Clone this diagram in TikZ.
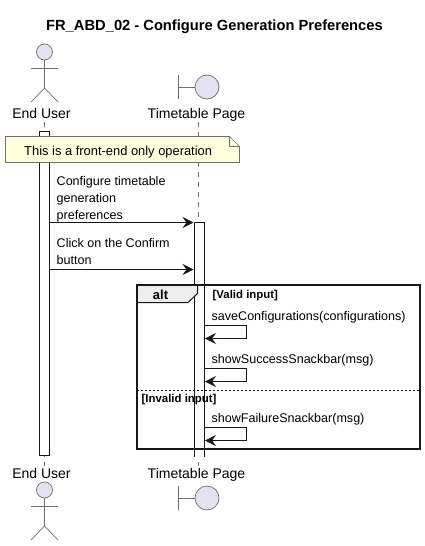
\documentclass[tikz,border=0pt]{standalone}
\usepackage{fontspec}
\setmainfont{Liberation Sans}
\usetikzlibrary{arrows.meta,positioning}
\definecolor{partfill}{HTML}{E2E2F0}
\definecolor{partline}{HTML}{6E6E6E}
\definecolor{notefill}{HTML}{FEFFDD}
\definecolor{tabfill}{HTML}{EEEEEE}
\definecolor{ink}{HTML}{181818}

\begin{document}
\begin{tikzpicture}[x=1pt,y=-1pt,
    part/.style={draw=partline,fill=partfill,line width=0.7pt},
    partlabel/.style={anchor=base,inner sep=0pt,font=\fontsize{14}{16}\selectfont},
    lifeline/.style={draw=partline,line width=0.6pt,dash pattern=on 5pt off 5pt},
    bar/.style={draw=ink,fill=white,line width=0.9pt},
    msg/.style={draw=ink,line width=0.9pt,-{Stealth[length=11pt,width=11pt,inset=4pt]}},
    msgtext/.style={anchor=base west,inner sep=0pt,font=\fontsize{12.55}{17}\selectfont},
    guard/.style={anchor=base west,inner sep=0pt,font=\bfseries\fontsize{11.4}{13}\selectfont}]
        \useasboundingbox (0,0) rectangle (425,546);

        \node (title) [anchor=base,inner sep=0pt,font=\bfseries\fontsize{14.7}{17}\selectfont] at (214.5,30) {FR\_ABD\_02 - Configure Generation Preferences};

        % lifelines
        \draw[lifeline] (44.5,122) -- (44.5,466);
        \draw[lifeline] (198.5,122) -- (198.5,466);

        % both ends of the lifelines
        \foreach \shiftU/\shiftP/\toplabel/\tag in {0/0/118/a,438/411/478/b} {
            \begin{scope}[shift={(0,\shiftU)}]
                \draw[part] (44.5,52) circle (8);
                \draw[draw=partline,line width=0.7pt] (44.5,60) -- (44.5,88) (31,68.5) -- (58,68.5)
                    (31,102) -- (44.5,88) -- (58,102);
            \end{scope}
            \begin{scope}[shift={(0,\shiftP)}]
                \draw[draw=partline,line width=0.7pt] (178.5,75) -- (178.5,99) (178.5,87) -- (195,87);
                \draw[part] (207,87) circle (12);
            \end{scope}
            \node (user\tag) [partlabel] at (41.5,\toplabel) {End User};
            \node (page\tag) [partlabel] at (196.5,\toplabel) {Timetable Page};
        }

        % activation bars
        \draw[bar] (39.5,131.5) rectangle (49.5,455.5);
        \fill[white] (194.5,222.5) rectangle (204.5,457);
        \draw[draw=ink,line width=0.9pt] (194.5,457) -- (194.5,222.5) -- (204.5,222.5) -- (204.5,457);

        % note
        \draw[draw=partline,fill=notefill,line width=0.7pt] (5.5,136.5) -- (229.5,136.5) -- (239.5,146.5) -- (239.5,162.5) -- (5.5,162.5) -- cycle;
        \draw[draw=partline,line width=0.7pt] (229.5,136.5) -- (229.5,146.5) -- (239.5,146.5);
        \node (note) [anchor=base west,inner sep=0pt,font=\fontsize{12.9}{17}\selectfont] at (24,155) {This is a front-end only operation};

        % messages from the user
        \node (cfg) [msgtext,anchor=north west,align=left] at (56.5,176) {Configure timetable\\generation\\preferences};
        \node (clk) [msgtext,anchor=north west,align=left] at (56.5,238) {Click on the Confirm\\button};
        \coordinate (cfgA) at (49.5,222.5);
        \coordinate (cfgB) at (193.5,222.5);
        \coordinate (clkA) at (49.5,269.5);
        \coordinate (clkB) at (193.5,269.5);
        \draw[msg] (cfgA) -- (cfgB);
        \draw[msg] (clkA) -- (clkB);

        % alt frame
        \draw[draw=ink,fill=tabfill,line width=1pt] (136.5,284.5) -- (197.5,284.5) -- (197.5,293.5) -- (188,302.5) -- (136.5,302.5) -- cycle;
        \draw[draw=ink,line width=2pt] (136.5,284.5) rectangle (420,448.5);
        \draw[draw=ink,line width=0.6pt,dash pattern=on 2pt off 2pt] (136.5,390.5) -- (420,390.5);
        \node (alt) [anchor=base,inner sep=0pt,font=\bfseries\fontsize{13}{15}\selectfont] at (160.5,299) {alt};
        \node (valid) [guard] at (212.5,298) {[Valid input]};
        \node (invalid) [guard] at (141.5,402) {[Invalid input]};

        % self messages
        \foreach \y/\name/\txt in {325.5/save/saveConfigurations(configurations),368.5/ok/showSuccessSnackbar(msg),427.5/fail/showFailureSnackbar(msg)} {
            \node (\name) [msgtext] at (211.5,\y-5) {\txt};
            \draw[msg] (204.5,\y) -- (246.5,\y) -- (246.5,\y+13) -- (205,\y+13);
        }
\end{tikzpicture}
\end{document}
